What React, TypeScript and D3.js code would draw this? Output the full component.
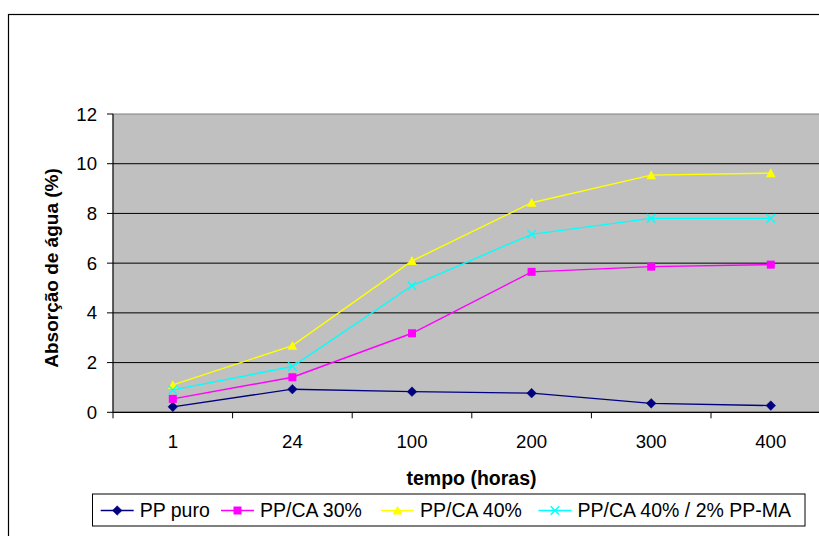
import React from "react";
import * as d3 from "d3";

const categories = ["1", "24", "100", "200", "300", "400"];
const seriesNames = ["PP puro", "PP/CA 30%", "PP/CA 40%", "PP/CA 40% / 2% PP-MA"];
const ppPuro = [0.22, 0.93, 0.83, 0.77, 0.36, 0.27];
const ppCa30 = [0.54, 1.41, 3.18, 5.65, 5.86, 5.94];
const ppCa40 = [1.1, 2.68, 6.09, 8.43, 9.54, 9.62];
const ppCa40Ma = [0.9, 1.84, 5.09, 7.16, 7.8, 7.8];
const yTicks = [0, 2, 4, 6, 8, 10, 12];
const xTitle = "tempo (horas)";
const yTitle = "Absorção de água (%)";

const colors = ["#000080", "#FF00FF", "#FFFF00", "#00FFFF"];
const symbols = ["diamond", "square", "triangle", "cross"];
const FONT = "'Liberation Sans', Arial, sans-serif";

function Marker({ type, x, y, color }: { type: string; x: number; y: number; color: string }) {
  if (type === "diamond") {
    const s = 4.8;
    return <path d={`M${x},${y - s}L${x + s},${y}L${x},${y + s}L${x - s},${y}Z`} fill={color} stroke={color} strokeWidth={0.5} />;
  }
  if (type === "square") {
    const s = 4;
    return <rect x={x - s} y={y - s} width={2 * s} height={2 * s} fill={color} />;
  }
  if (type === "triangle") {
    const s = 4.8;
    return <path d={`M${x},${y - s}L${x + s},${y + s * 0.85}L${x - s},${y + s * 0.85}Z`} fill={color} />;
  }
  const s = 4.3;
  return (
    <path d={`M${x - s},${y - s}L${x + s},${y + s}M${x + s},${y - s}L${x - s},${y + s}`} stroke={color} strokeWidth={1.4} fill="none" />
  );
}

export default function App() {
  const W = 819, H = 536;
  const left = 113, top = 114, bottom = 412.3;
  const bandW = 119.6;
  const x = d3.scaleBand<string>().domain(categories).range([left, left + bandW * categories.length]).padding(0);
  const y = d3.scaleLinear().domain([0, 12]).range([bottom, top]);
  const cx = (c: string) => (x(c) as number) + x.bandwidth() / 2;
  const allSeries = [ppPuro, ppCa30, ppCa40, ppCa40Ma];
  const line = d3.line<number>().x((_, i) => cx(categories[i])).y((v) => y(v));
  const right = left + bandW * categories.length;
  const boundaries = categories.map((c) => x(c) as number).concat([right]);

  const legendX = 92.5, legendY = 494, legendW = 712.5, legendH = 32;
  const legendStarts = [8.2, 128.5, 288.5, 446];

  return (
    <div style={{ position: "fixed", left: 0, top: 0 }}>
      <svg width={W} height={H} style={{ display: "block", fontFamily: FONT }}>
        <rect x={0} y={0} width={W} height={H} fill="#fff" />
        <rect x={8.5} y={14.5} width={W + 20} height={H + 20} fill="#fff" stroke="#000" strokeWidth={1.2} />
        {/* plot area */}
        <rect x={left} y={top} width={right - left} height={bottom - top} fill="#C0C0C0" stroke="#808080" strokeWidth={1} />
        {yTicks.filter((t) => t > 0 && t < 12).map((t) => (
          <line key={t} x1={left} x2={right} y1={y(t)} y2={y(t)} stroke="#000" strokeWidth={1} />
        ))}
        {/* axes */}
        <line x1={left} x2={left} y1={top} y2={bottom} stroke="#000" strokeWidth={1} />
        <line x1={left} x2={right} y1={bottom} y2={bottom} stroke="#000" strokeWidth={1.2} />
        {yTicks.map((t) => (
          <g key={t}>
            <line x1={left - 6} x2={left} y1={y(t)} y2={y(t)} stroke="#000" strokeWidth={1} />
            <text x={97} y={y(t)} dy="0.35em" textAnchor="end" fontSize={18.6} fill="#000">{t}</text>
          </g>
        ))}
        {boundaries.map((b, i) => (
          <line key={i} x1={b} x2={b} y1={bottom} y2={bottom + 6} stroke="#000" strokeWidth={1} />
        ))}
        {categories.map((c) => (
          <text key={c} x={cx(c)} y={441.5} dy="0.35em" textAnchor="middle" fontSize={18.6} fill="#000">{c}</text>
        ))}
        <text x={471.5} y={478.5} dy="0.35em" textAnchor="middle" fontSize={19.5} fontWeight="bold" fill="#000">{xTitle}</text>
        <text transform={`translate(51,268) rotate(-90)`} dy="0.35em" textAnchor="middle" fontSize={19} fontWeight="bold" fill="#000">{yTitle}</text>
        {/* series */}
        {allSeries.map((s, si) => (
          <g key={si}>
            <path d={line(s) as string} fill="none" stroke={colors[si]} strokeWidth={1.4} />
            {s.map((v, i) => (
              <Marker key={i} type={symbols[si]} x={cx(categories[i])} y={y(v)} color={colors[si]} />
            ))}
          </g>
        ))}
        {/* legend */}
        <rect x={legendX} y={legendY} width={legendW} height={legendH} fill="#fff" stroke="#000" strokeWidth={1} />
        {seriesNames.map((n, i) => {
          const sx = legendX + legendStarts[i];
          const ly = legendY + legendH / 2 + 0.5;
          return (
            <g key={n}>
              <line x1={sx} x2={sx + 33} y1={ly} y2={ly} stroke={colors[i]} strokeWidth={1.4} />
              <Marker type={symbols[i]} x={sx + 16.5} y={ly} color={colors[i]} />
              <text x={sx + 39} y={ly} dy="0.35em" fontSize={19.5} fill="#000">{n}</text>
            </g>
          );
        })}
      </svg>
    </div>
  );
}
